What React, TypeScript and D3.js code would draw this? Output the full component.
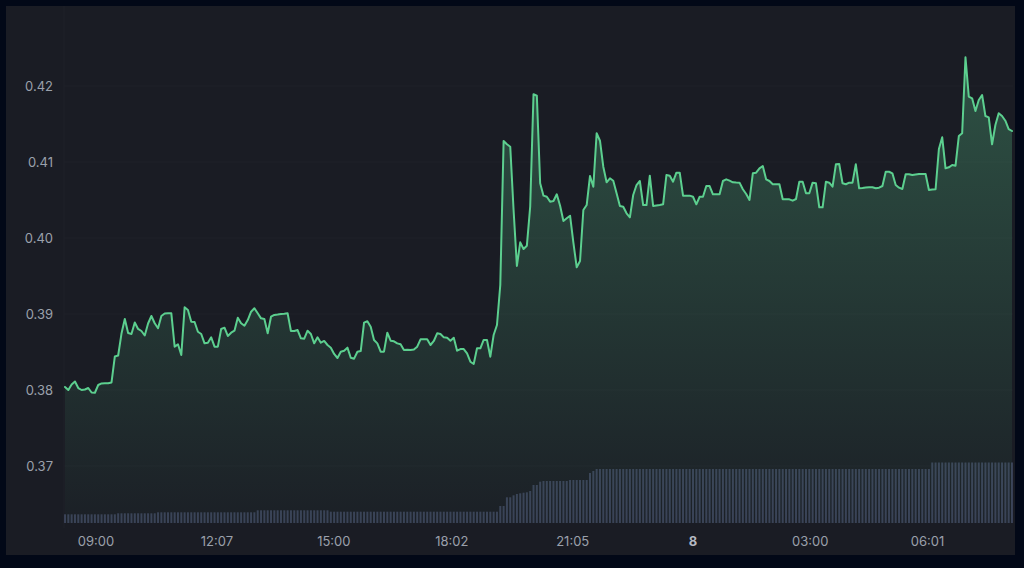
import React from "react";
import * as d3 from "d3";

// Price series (one value per bar, 5-minute bars)
const prices: number[] = [
  0.38039, 0.38000, 0.38072, 0.38112, 0.38026, 0.38000, 0.38007, 0.38026, 0.37967, 0.37964,
  0.38066, 0.38086, 0.38088, 0.38088, 0.38099, 0.38441, 0.38454, 0.38743, 0.38934, 0.38750,
  0.38737, 0.38888, 0.38803, 0.38776, 0.38717, 0.38875, 0.38974, 0.38878, 0.38812, 0.38974,
  0.39007, 0.39009, 0.39009, 0.38570, 0.38601, 0.38461, 0.39088, 0.39053, 0.38899, 0.38895,
  0.38767, 0.38737, 0.38614, 0.38622, 0.38693, 0.38570, 0.38570, 0.38803, 0.38820, 0.38711,
  0.38754, 0.38780, 0.38951, 0.38878, 0.38846, 0.38921, 0.39030, 0.39075, 0.39009, 0.38943,
  0.38934, 0.38746, 0.38964, 0.38987, 0.38993, 0.39000, 0.39004, 0.39009, 0.38776, 0.38776,
  0.38789, 0.38680, 0.38675, 0.38780, 0.38737, 0.38614, 0.38693, 0.38622, 0.38645, 0.38592,
  0.38557, 0.38474, 0.38421, 0.38504, 0.38517, 0.38557, 0.38425, 0.38412, 0.38504, 0.38513,
  0.38886, 0.38904, 0.38833, 0.38658, 0.38614, 0.38504, 0.38504, 0.38754, 0.38649, 0.38641,
  0.38614, 0.38601, 0.38526, 0.38530, 0.38526, 0.38533, 0.38570, 0.38667, 0.38667, 0.38667,
  0.38592, 0.38645, 0.38746, 0.38737, 0.38693, 0.38688, 0.38649, 0.38688, 0.38517, 0.38539,
  0.38539, 0.38483, 0.38372, 0.38342, 0.38549, 0.38549, 0.38658, 0.38658, 0.38438, 0.38724,
  0.38855, 0.39382, 0.41276, 0.41233, 0.41201, 0.40368, 0.39632, 0.39943, 0.39855, 0.39899,
  0.40412, 0.41891, 0.41872, 0.40720, 0.40557, 0.40543, 0.40478, 0.40487, 0.40575, 0.40425,
  0.40224, 0.40259, 0.40293, 0.39938, 0.39614, 0.39697, 0.40368, 0.40434, 0.40816, 0.40675,
  0.41378, 0.41280, 0.40938, 0.40733, 0.40786, 0.40754, 0.40588, 0.40421, 0.40412, 0.40325,
  0.40272, 0.40566, 0.40697, 0.40750, 0.40434, 0.40434, 0.40820, 0.40421, 0.40428, 0.40434,
  0.40443, 0.40829, 0.40820, 0.40741, 0.40859, 0.40859, 0.40557, 0.40557, 0.40557, 0.40543,
  0.40443, 0.40543, 0.40543, 0.40684, 0.40684, 0.40575, 0.40575, 0.40575, 0.40750, 0.40772,
  0.40754, 0.40733, 0.40730, 0.40728, 0.40641, 0.40579, 0.40500, 0.40851, 0.40859, 0.40917,
  0.40947, 0.40772, 0.40750, 0.40707, 0.40707, 0.40707, 0.40509, 0.40509, 0.40509, 0.40491,
  0.40513, 0.40741, 0.40741, 0.40588, 0.40588, 0.40728, 0.40720, 0.40404, 0.40404, 0.40741,
  0.40728, 0.40675, 0.40970, 0.40974, 0.40720, 0.40707, 0.40728, 0.40728, 0.40970, 0.40654,
  0.40658, 0.40664, 0.40667, 0.40667, 0.40654, 0.40662, 0.40684, 0.40872, 0.40872, 0.40851,
  0.40697, 0.40662, 0.40645, 0.40838, 0.40838, 0.40829, 0.40836, 0.40842, 0.40842, 0.40842,
  0.40632, 0.40638, 0.40641, 0.41171, 0.41325, 0.40917, 0.40930, 0.40961, 0.40951, 0.41342,
  0.41378, 0.42378, 0.41859, 0.41838, 0.41671, 0.41816, 0.41882, 0.41605, 0.41588, 0.41233,
  0.41487, 0.41641, 0.41605, 0.41543, 0.41434, 0.41408,
];

// Volume series (one value per bar)
const volumes: number[] = [
  870, 870, 870, 870, 870, 870, 870, 870, 870, 870, 870, 870, 870, 870, 870, 870,
  970, 970, 970, 970, 970, 970, 970, 970, 970, 970, 970, 970,
  1070, 1070, 1070, 1070, 1070, 1070, 1070, 1070, 1070, 1070, 1070, 1070, 1070, 1070, 1070,
  1070, 1070, 1070, 1070, 1070, 1070, 1070, 1070, 1070, 1070, 1070, 1070, 1070, 1070, 1070,
  1270, 1270, 1270, 1270, 1270, 1270, 1270, 1270, 1270, 1270, 1270, 1270, 1270, 1270, 1270,
  1270, 1270, 1270, 1270, 1270, 1270, 1270,
  1130, 1130, 1130, 1130, 1130, 1130, 1130, 1130, 1130, 1130, 1130, 1130, 1130, 1130, 1130,
  1130, 1130, 1130, 1130, 1130, 1130, 1130, 1130, 1130, 1130, 1130, 1130, 1130, 1130, 1130,
  1130, 1130, 1130, 1130, 1130, 1130, 1130, 1130, 1130, 1130, 1130, 1130, 1130, 1130, 1130,
  1130, 1130, 1130, 1130, 1130, 1130,
  1700, 1700, 2570, 2570, 2770, 2900, 2970, 3030, 3070, 3200, 3800, 3800, 4130,
  4200, 4200, 4200, 4200, 4200, 4200, 4200, 4200,
  4300, 4300, 4300, 4300, 4300, 4300, 5000, 5200,
  5400, 5400, 5400, 5400, 5400, 5400, 5400, 5400, 5400, 5400, 5400, 5400, 5400, 5400, 5400,
  5400, 5400, 5400, 5400, 5400, 5400, 5400, 5400, 5400, 5400, 5400, 5400, 5400, 5400, 5400,
  5400, 5400, 5400, 5400, 5400, 5400, 5400, 5400, 5400, 5400, 5400, 5400, 5400, 5400, 5400,
  5400, 5400, 5400, 5400, 5400, 5400, 5400, 5400, 5400, 5400, 5400, 5400, 5400, 5400, 5400,
  5400, 5400, 5400, 5400, 5400, 5400, 5400, 5400, 5400, 5400, 5400, 5400, 5400, 5400, 5400,
  5400, 5400, 5400, 5400, 5400, 5400, 5400, 5400, 5400, 5400, 5400, 5400, 5400, 5400, 5400,
  5400, 5400, 5400, 5400, 5400, 5400, 5400, 5400, 5400, 5400, 5400,
  6050, 6050, 6050, 6050, 6050, 6050, 6050, 6050, 6050, 6050, 6050, 6050, 6050, 6050, 6050,
  6050, 6050, 6050, 6050, 6050, 6050, 6050, 6050, 6050, 6050,
];

// Time axis labels and the bar index at which each sits
const timeLabels: string[] = ["09:00", "12:07", "15:00", "18:02", "21:05", "8", "03:00", "06:01"];
const timeLabelIndex: number[] = [9.3, 45.7, 80.9, 116.4, 152.8, 189, 224.3, 259.6];
const dayLabels: string[] = ["8"];

const priceTicks: number[] = [0.37, 0.38, 0.39, 0.4, 0.41, 0.42];

const W = 1024;
const H = 568;
const PANEL = { x: 6, y: 6, w: 1009, h: 549 };
const PLOT = { left: 65, right: 1012, bottom: 523 };
const LINE = "#5ccf8f";

export default function App() {
  const n = Math.min(prices.length, volumes.length);
  const x = d3.scaleLinear().domain([0, n - 1]).range([PLOT.left, PLOT.right]);
  const y = d3.scaleLinear().domain([0.37, 0.42]).range([466, 86]);
  const vy = d3.scaleLinear().domain([0, 6000]).range([PLOT.bottom, PLOT.bottom - 60]);

  const data = prices.slice(0, n).map((p, i) => ({ i, p, v: volumes[i] }));
  const line = d3.line<any>().x((d) => x(d.i)).y((d) => y(d.p));
  const area = d3
    .area<any>()
    .x((d) => x(d.i))
    .y0(PLOT.bottom)
    .y1((d) => y(d.p));
  const maxP = d3.max(prices) as number;
  const barW = 2;

  return (
    <div style={{ position: "fixed", left: 0, top: 0, width: W, height: H }}>
      <svg width={W} height={H} style={{ display: "block" }} fontFamily="Inter, 'Noto Sans', sans-serif">
        <defs>
          <linearGradient id="areaGrad" gradientUnits="userSpaceOnUse" x1="0" x2="0" y1={y(maxP)} y2={PLOT.bottom}>
            <stop offset="0" stopColor={LINE} stopOpacity={0.3} />
            <stop offset="1" stopColor={LINE} stopOpacity={0.02} />
          </linearGradient>
        </defs>
        <rect x={0} y={0} width={W} height={H} fill="#020817" />
        <rect x={PANEL.x} y={PANEL.y} width={PANEL.w} height={PANEL.h} fill="#1a1c24" />
        {/* faint grid */}
        {priceTicks.map((t) => (
          <line key={"g" + t} x1={PLOT.left - 1} x2={PANEL.x + PANEL.w - 2} y1={y(t)} y2={y(t)} stroke="#1e2029" strokeWidth={1} />
        ))}
        <line x1={PLOT.left - 1} x2={PLOT.left - 1} y1={PANEL.y} y2={PLOT.bottom + 5} stroke="#1e2029" strokeWidth={1} />
        {/* volume */}
        {data.map((d) => (
          <rect key={"v" + d.i} x={x(d.i) - barW / 2} y={vy(d.v)} width={barW} height={PLOT.bottom - vy(d.v)} fill="#394056" />
        ))}
        {/* area + line */}
        <path d={area(data) || ""} fill="url(#areaGrad)" />
        <path d={line(data) || ""} fill="none" stroke={LINE} strokeWidth={2} strokeLinejoin="round" strokeLinecap="round" />
        {/* y labels */}
        {priceTicks.map((t) => (
          <text key={"y" + t} x={53} y={y(t)} dy="0.35em" textAnchor="end" fontSize={13} fill="#9aa0ab">
            {d3.format(".2f")(t)}
          </text>
        ))}
        {/* x labels */}
        {timeLabels.map((l, k) => {
          const isDay = dayLabels.includes(l);
          return (
            <text key={"x" + k} x={x(timeLabelIndex[k])} y={541} dy="0.35em" textAnchor="middle" fontSize={13}
              fill={isDay ? "#b4b8c2" : "#9aa0ab"} fontWeight={isDay ? 700 : 400}>
              {l}
            </text>
          );
        })}
      </svg>
    </div>
  );
}
